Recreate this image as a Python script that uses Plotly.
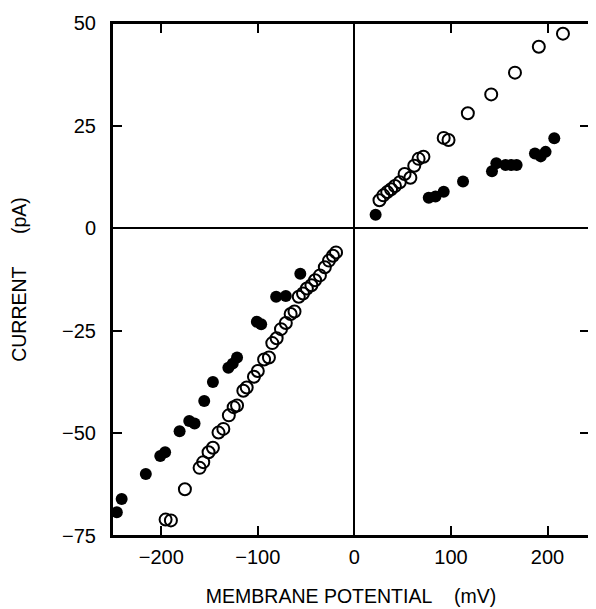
import plotly.graph_objects as go

# filled circles
filled_x = [-246, -241, -216, -201, -196, -181, -171, -165.5, -155.5, -146.5,
            -130.5, -126, -121.5, -101, -96.5, -81, -71, -56,
            22, 77, 84, 92.5, 112.5, 142.5, 147, 156.5, 162.5, 168,
            187, 193, 198, 207]
filled_y = [-69.2, -66.0, -59.9, -55.5, -54.6, -49.5, -47.0, -47.6, -42.1, -37.5,
            -34.0, -33.0, -31.5, -22.8, -23.4, -16.7, -16.5, -11.1,
            3.3, 7.4, 7.7, 8.9, 11.4, 13.9, 15.8, 15.4, 15.4, 15.4,
            18.2, 17.5, 18.6, 21.9]

# open circles
open_x = [-195.5, -190, -175.5, -160.3, -156.5, -151, -146.5, -140.7, -135.7, -130,
          -125, -121.5, -115, -111.5, -104, -100, -93.5, -88.5, -85, -80.5,
          -76, -71, -66, -62, -57.6, -53.2, -49.2, -44.5, -40.7, -35.7,
          -30.6, -26.3, -22.2, -19,
          26, 30, 34, 38, 42, 47, 52, 58, 62, 66.5, 71.5, 92.5, 97.5,
          117.5, 141.7, 166.3, 191, 216]
open_y = [-71.0, -71.2, -63.6, -58.4, -57.0, -54.6, -53.5, -49.8, -48.9, -45.6,
          -43.6, -43.2, -39.6, -38.8, -36.2, -34.8, -32.0, -31.5, -28.0, -26.8,
          -24.6, -23.1, -20.9, -20.3, -16.7, -15.9, -14.7, -13.9, -12.7, -11.5,
          -9.5, -7.9, -6.7, -5.9,
          6.8, 8.0, 8.8, 9.5, 10.3, 11.2, 13.2, 12.3, 15.2, 16.9, 17.4, 22.0, 21.5,
          28.0, 32.6, 37.9, 44.2, 47.4]

x_ticks = [-200, -100, 0, 100, 200]
y_ticks = [-75, -50, -25, 0, 25, 50]

font = "Liberation Sans, Arial, sans-serif"
nb = "\u00a0"

fig = go.Figure()
fig.add_trace(go.Scatter(
    x=open_x, y=open_y, mode="markers", name="open",
    marker=dict(symbol="circle-open", size=12, color="black", line=dict(width=2, color="black"))
))
fig.add_trace(go.Scatter(
    x=filled_x, y=filled_y, mode="markers", name="filled",
    marker=dict(symbol="circle", size=12, color="black")
))

axis_common = dict(
    showgrid=False,
    zeroline=True, zerolinecolor="black", zerolinewidth=1.6,
    showline=True, linecolor="black", linewidth=2, mirror="allticks",
    ticks="inside", ticklen=10, tickwidth=2, tickcolor="black",
    tickfont=dict(family=font, size=20, color="black"),
    ticklabeloverflow="allow",
)

fig.update_xaxes(
    range=[-251, 244], tickvals=x_ticks,
    title=dict(text="MEMBRANE POTENTIAL" + nb * 4 + "(mV)", standoff=22,
               font=dict(family=font, size=19.5, color="black")),
    ticklabelstandoff=2,
    **axis_common
)
fig.update_yaxes(
    range=[-75, 50], tickvals=y_ticks,
    title=dict(text="CURRENT" + nb * 6 + "(pA)", standoff=36,
               font=dict(family=font, size=19.5, color="black")),
    ticklabelstandoff=10,
    **axis_common
)

# box round the plot area (same place as the mirrored axis lines)
fig.add_shape(type="rect", xref="paper", yref="paper", x0=0, x1=1, y0=0, y1=1,
              line=dict(color="black", width=2), layer="above")

# page body has an 8px margin, so the figure is shrunk by that much
fig.update_layout(
    width=588, height=601,
    margin=dict(l=95, r=4, t=10, b=73),
    paper_bgcolor="white", plot_bgcolor="white",
    showlegend=False,
)

fig.write_html("out.html")
